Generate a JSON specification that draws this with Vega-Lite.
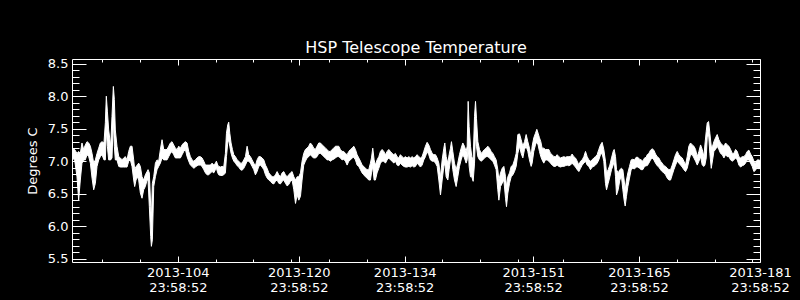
{
"$schema": "https://vega.github.io/schema/vega-lite/v6.json",
"width": 688, "height": 203,
"autosize": {"type": "none"},
"padding": {"left": 72, "top": 59, "right": 40, "bottom": 38},
"background": "black",
"title": {"text": "HSP Telescope Temperature", "color": "white", "font": "DejaVu Sans", "fontSize": 16, "fontWeight": "normal", "offset": 2, "anchor": "middle"},
"data": {"values": [
{"d":90.00,"lo":7.05,"hi":7.20},{"d":90.35,"lo":7.02,"hi":7.18},{"d":90.66,"lo":6.76,"hi":7.12},{"d":90.88,"lo":6.40,"hi":7.15},{"d":91.10,"lo":6.71,"hi":7.12},{"d":91.32,"lo":6.97,"hi":7.28},{"d":91.54,"lo":7.02,"hi":7.18},{"d":91.76,"lo":7.02,"hi":7.25},{"d":91.99,"lo":7.10,"hi":7.30},{"d":92.21,"lo":7.07,"hi":7.28},{"d":92.43,"lo":6.97,"hi":7.23},{"d":92.65,"lo":6.74,"hi":7.12},{"d":92.87,"lo":6.56,"hi":6.97},{"d":93.09,"lo":6.66,"hi":7.02},{"d":93.31,"lo":6.92,"hi":7.12},{"d":93.53,"lo":7.02,"hi":7.20},{"d":93.75,"lo":7.07,"hi":7.28},{"d":93.97,"lo":7.10,"hi":7.30},{"d":94.23,"lo":7.02,"hi":7.28},{"d":94.41,"lo":7.02,"hi":7.59},{"d":94.54,"lo":7.48,"hi":8.00},{"d":94.68,"lo":7.23,"hi":7.77},{"d":94.85,"lo":7.02,"hi":7.48},{"d":95.12,"lo":7.02,"hi":7.23},{"d":95.29,"lo":7.05,"hi":7.69},{"d":95.47,"lo":7.64,"hi":8.15},{"d":95.60,"lo":7.23,"hi":7.95},{"d":95.73,"lo":7.02,"hi":7.48},{"d":95.95,"lo":7.02,"hi":7.23},{"d":96.18,"lo":6.92,"hi":7.07},{"d":96.40,"lo":6.91,"hi":7.05},{"d":96.62,"lo":6.91,"hi":7.02},{"d":96.84,"lo":6.91,"hi":7.05},{"d":97.06,"lo":6.91,"hi":7.07},{"d":97.28,"lo":6.91,"hi":7.02},{"d":97.50,"lo":7.00,"hi":7.15},{"d":97.72,"lo":7.02,"hi":7.23},{"d":97.94,"lo":6.92,"hi":7.23},{"d":98.16,"lo":6.71,"hi":7.02},{"d":98.29,"lo":6.61,"hi":6.87},{"d":98.47,"lo":6.71,"hi":6.92},{"d":98.65,"lo":6.76,"hi":6.94},{"d":98.82,"lo":6.71,"hi":6.97},{"d":99.04,"lo":6.51,"hi":6.92},{"d":99.26,"lo":6.43,"hi":6.76},{"d":99.48,"lo":6.56,"hi":6.71},{"d":99.70,"lo":6.61,"hi":6.79},{"d":99.93,"lo":6.71,"hi":6.84},{"d":100.06,"lo":6.71,"hi":6.87},{"d":100.23,"lo":6.30,"hi":6.82},{"d":100.41,"lo":5.84,"hi":6.30},{"d":100.50,"lo":5.69,"hi":6.10},{"d":100.63,"lo":5.79,"hi":6.66},{"d":100.81,"lo":6.61,"hi":6.76},{"d":101.03,"lo":6.76,"hi":6.97},{"d":101.25,"lo":6.87,"hi":7.02},{"d":101.47,"lo":6.92,"hi":7.00},{"d":101.69,"lo":6.97,"hi":7.18},{"d":101.91,"lo":7.05,"hi":7.33},{"d":102.13,"lo":7.02,"hi":7.18},{"d":102.35,"lo":7.02,"hi":7.18},{"d":102.57,"lo":7.02,"hi":7.18},{"d":102.79,"lo":7.07,"hi":7.23},{"d":103.01,"lo":7.12,"hi":7.28},{"d":103.23,"lo":7.15,"hi":7.30},{"d":103.45,"lo":7.10,"hi":7.25},{"d":103.67,"lo":7.05,"hi":7.20},{"d":103.90,"lo":7.05,"hi":7.18},{"d":104.12,"lo":7.05,"hi":7.23},{"d":104.34,"lo":7.05,"hi":7.20},{"d":104.56,"lo":7.10,"hi":7.25},{"d":104.78,"lo":7.15,"hi":7.28},{"d":105.00,"lo":7.18,"hi":7.30},
{"d":105.22,"lo":7.07,"hi":7.28},{"d":105.44,"lo":7.00,"hi":7.15},{"d":105.66,"lo":6.94,"hi":7.07},{"d":105.88,"lo":6.92,"hi":7.02},{"d":106.10,"lo":6.89,"hi":7.00},{"d":106.32,"lo":6.91,"hi":7.02},{"d":106.54,"lo":6.93,"hi":7.05},{"d":106.76,"lo":6.94,"hi":7.07},{"d":106.98,"lo":6.94,"hi":7.07},{"d":107.20,"lo":6.92,"hi":7.05},{"d":107.43,"lo":6.87,"hi":7.00},{"d":107.65,"lo":6.82,"hi":6.94},{"d":107.87,"lo":6.79,"hi":6.94},{"d":108.09,"lo":6.79,"hi":6.94},{"d":108.31,"lo":6.82,"hi":6.94},{"d":108.53,"lo":6.84,"hi":6.97},{"d":108.75,"lo":6.82,"hi":6.94},{"d":108.97,"lo":6.87,"hi":6.97},{"d":109.10,"lo":6.89,"hi":7.00},{"d":109.28,"lo":6.82,"hi":6.94},{"d":109.41,"lo":6.79,"hi":6.92},{"d":109.63,"lo":6.78,"hi":6.91},{"d":109.85,"lo":6.78,"hi":6.92},{"d":110.07,"lo":6.79,"hi":6.91},{"d":110.29,"lo":6.82,"hi":7.12},{"d":110.43,"lo":7.07,"hi":7.43},{"d":110.60,"lo":7.28,"hi":7.56},{"d":110.73,"lo":7.33,"hi":7.60},{"d":110.87,"lo":7.23,"hi":7.43},{"d":111.04,"lo":7.12,"hi":7.28},{"d":111.22,"lo":7.05,"hi":7.18},{"d":111.40,"lo":7.00,"hi":7.10},{"d":111.62,"lo":6.97,"hi":7.07},{"d":111.84,"lo":6.93,"hi":7.02},{"d":112.06,"lo":6.91,"hi":7.00},{"d":112.28,"lo":6.87,"hi":6.97},{"d":112.50,"lo":6.86,"hi":6.97},{"d":112.72,"lo":6.89,"hi":7.02},{"d":112.94,"lo":6.94,"hi":7.07},{"d":113.16,"lo":7.00,"hi":7.23},{"d":113.38,"lo":7.00,"hi":7.10},{"d":113.60,"lo":6.97,"hi":7.07},{"d":113.82,"lo":6.92,"hi":7.02},{"d":114.04,"lo":6.87,"hi":6.97},{"d":114.26,"lo":6.79,"hi":6.93},{"d":114.48,"lo":6.84,"hi":7.02},{"d":114.70,"lo":6.92,"hi":7.07},{"d":114.92,"lo":6.94,"hi":7.07},{"d":115.14,"lo":6.91,"hi":7.05},{"d":115.37,"lo":6.87,"hi":7.02},{"d":115.59,"lo":6.79,"hi":6.94},{"d":115.81,"lo":6.74,"hi":6.89},{"d":116.03,"lo":6.71,"hi":6.82},{"d":116.25,"lo":6.69,"hi":6.79},{"d":116.47,"lo":6.66,"hi":6.76},{"d":116.69,"lo":6.65,"hi":6.76},{"d":116.91,"lo":6.69,"hi":6.79},{"d":117.13,"lo":6.71,"hi":6.84},{"d":117.35,"lo":6.66,"hi":6.79},{"d":117.57,"lo":6.65,"hi":6.76},{"d":117.79,"lo":6.69,"hi":6.82},{"d":118.01,"lo":6.71,"hi":6.84},{"d":118.23,"lo":6.66,"hi":6.79},{"d":118.45,"lo":6.62,"hi":6.76},{"d":118.67,"lo":6.64,"hi":6.79},{"d":118.89,"lo":6.69,"hi":6.82},{"d":119.11,"lo":6.71,"hi":6.84},{"d":119.34,"lo":6.56,"hi":6.76},{"d":119.56,"lo":6.35,"hi":6.71},{"d":119.78,"lo":6.48,"hi":6.76},{"d":120.00,"lo":6.40,"hi":6.76},{"d":120.22,"lo":6.46,"hi":6.82},
{"d":120.43,"lo":6.71,"hi":7.00},{"d":120.65,"lo":6.94,"hi":7.12},{"d":120.87,"lo":7.00,"hi":7.18},{"d":121.09,"lo":7.05,"hi":7.20},{"d":121.31,"lo":7.07,"hi":7.23},{"d":121.53,"lo":7.10,"hi":7.28},{"d":121.75,"lo":7.07,"hi":7.25},{"d":121.97,"lo":7.05,"hi":7.20},{"d":122.19,"lo":7.05,"hi":7.18},{"d":122.41,"lo":7.07,"hi":7.23},{"d":122.64,"lo":7.12,"hi":7.28},{"d":122.86,"lo":7.12,"hi":7.28},{"d":123.08,"lo":7.10,"hi":7.25},{"d":123.30,"lo":7.07,"hi":7.23},{"d":123.52,"lo":7.05,"hi":7.20},{"d":123.74,"lo":7.02,"hi":7.18},{"d":123.96,"lo":7.02,"hi":7.15},{"d":124.18,"lo":7.00,"hi":7.15},{"d":124.40,"lo":7.02,"hi":7.18},{"d":124.62,"lo":7.03,"hi":7.20},{"d":124.84,"lo":7.05,"hi":7.23},{"d":125.06,"lo":7.07,"hi":7.23},{"d":125.28,"lo":7.07,"hi":7.23},{"d":125.50,"lo":7.05,"hi":7.18},{"d":125.72,"lo":7.02,"hi":7.15},{"d":125.94,"lo":7.03,"hi":7.15},{"d":126.16,"lo":7.00,"hi":7.12},{"d":126.39,"lo":6.94,"hi":7.10},{"d":126.61,"lo":7.00,"hi":7.15},{"d":126.83,"lo":7.02,"hi":7.18},{"d":127.05,"lo":7.05,"hi":7.20},{"d":127.27,"lo":7.06,"hi":7.23},{"d":127.49,"lo":7.02,"hi":7.18},{"d":127.71,"lo":6.94,"hi":7.10},{"d":127.93,"lo":6.92,"hi":7.05},{"d":128.15,"lo":6.87,"hi":7.00},{"d":128.37,"lo":6.82,"hi":6.94},{"d":128.59,"lo":6.79,"hi":6.92},{"d":128.81,"lo":6.76,"hi":6.89},{"d":129.03,"lo":6.74,"hi":6.87},{"d":129.25,"lo":6.71,"hi":6.87},{"d":129.47,"lo":6.71,"hi":6.97},{"d":129.61,"lo":6.82,"hi":7.05},{"d":129.78,"lo":6.92,"hi":7.20},{"d":129.96,"lo":6.71,"hi":7.02},{"d":130.13,"lo":6.71,"hi":6.94},{"d":130.35,"lo":6.82,"hi":7.02},{"d":130.58,"lo":6.89,"hi":7.07},{"d":130.80,"lo":6.97,"hi":7.15},{"d":131.02,"lo":7.00,"hi":7.18},{"d":131.24,"lo":7.00,"hi":7.15},{"d":131.46,"lo":6.97,"hi":7.10},{"d":131.68,"lo":7.02,"hi":7.15},{"d":131.90,"lo":7.05,"hi":7.18},{"d":132.12,"lo":7.02,"hi":7.15},{"d":132.34,"lo":7.00,"hi":7.12},{"d":132.56,"lo":6.97,"hi":7.10},{"d":132.78,"lo":7.00,"hi":7.12},{"d":133.00,"lo":6.94,"hi":7.07},{"d":133.22,"lo":6.93,"hi":7.05},{"d":133.44,"lo":6.97,"hi":7.10},{"d":133.66,"lo":6.94,"hi":7.07},{"d":133.88,"lo":6.92,"hi":7.05},{"d":134.10,"lo":6.91,"hi":7.07},{"d":134.32,"lo":6.91,"hi":7.05},{"d":134.55,"lo":6.92,"hi":7.07},{"d":134.77,"lo":6.91,"hi":7.05},{"d":134.99,"lo":6.93,"hi":7.07},{"d":135.21,"lo":6.91,"hi":7.05},{"d":135.43,"lo":6.92,"hi":7.07},
{"d":135.65,"lo":6.97,"hi":7.10},{"d":135.87,"lo":6.94,"hi":7.07},{"d":136.09,"lo":6.91,"hi":7.05},{"d":136.31,"lo":6.94,"hi":7.07},{"d":136.53,"lo":7.02,"hi":7.15},{"d":136.75,"lo":7.07,"hi":7.23},{"d":136.97,"lo":7.15,"hi":7.29},{"d":137.19,"lo":7.10,"hi":7.25},{"d":137.41,"lo":7.02,"hi":7.18},{"d":137.64,"lo":7.00,"hi":7.12},{"d":137.86,"lo":7.00,"hi":7.10},{"d":138.08,"lo":6.97,"hi":7.10},{"d":138.30,"lo":6.92,"hi":7.05},{"d":138.52,"lo":6.71,"hi":6.97},{"d":138.74,"lo":6.48,"hi":6.76},{"d":138.96,"lo":6.71,"hi":7.02},{"d":139.18,"lo":6.92,"hi":7.20},{"d":139.31,"lo":6.97,"hi":7.28},{"d":139.49,"lo":6.76,"hi":7.07},{"d":139.71,"lo":6.71,"hi":6.97},{"d":139.88,"lo":6.87,"hi":7.10},{"d":140.06,"lo":7.02,"hi":7.20},{"d":140.19,"lo":7.07,"hi":7.30},{"d":140.37,"lo":6.87,"hi":7.15},{"d":140.59,"lo":6.71,"hi":6.97},{"d":140.81,"lo":6.61,"hi":6.87},{"d":141.03,"lo":6.76,"hi":6.97},{"d":141.25,"lo":6.92,"hi":7.10},{"d":141.47,"lo":7.02,"hi":7.20},{"d":141.69,"lo":7.10,"hi":7.28},{"d":141.91,"lo":7.05,"hi":7.23},{"d":142.13,"lo":6.97,"hi":7.15},{"d":142.27,"lo":7.02,"hi":7.23},{"d":142.40,"lo":7.23,"hi":7.92},{"d":142.53,"lo":6.92,"hi":7.53},{"d":142.71,"lo":6.76,"hi":7.23},{"d":142.88,"lo":6.76,"hi":7.07},{"d":143.06,"lo":6.69,"hi":7.02},{"d":143.24,"lo":6.97,"hi":7.69},{"d":143.37,"lo":7.43,"hi":7.92},{"d":143.50,"lo":7.23,"hi":7.66},{"d":143.68,"lo":7.07,"hi":7.30},{"d":143.90,"lo":7.02,"hi":7.18},{"d":144.12,"lo":7.00,"hi":7.12},{"d":144.34,"lo":7.02,"hi":7.15},{"d":144.56,"lo":7.05,"hi":7.18},{"d":144.78,"lo":7.07,"hi":7.20},{"d":145.00,"lo":7.07,"hi":7.23},{"d":145.22,"lo":7.05,"hi":7.20},{"d":145.44,"lo":7.02,"hi":7.15},{"d":145.66,"lo":7.00,"hi":7.12},{"d":145.88,"lo":6.94,"hi":7.07},{"d":146.10,"lo":6.87,"hi":7.02},{"d":146.32,"lo":6.56,"hi":6.87},{"d":146.46,"lo":6.40,"hi":6.71},{"d":146.68,"lo":6.61,"hi":6.82},{"d":146.90,"lo":6.66,"hi":6.89},{"d":147.12,"lo":6.71,"hi":6.92},{"d":147.34,"lo":6.43,"hi":6.76},{"d":147.47,"lo":6.30,"hi":6.61},{"d":147.65,"lo":6.51,"hi":6.76},{"d":147.87,"lo":6.66,"hi":6.82},{"d":148.09,"lo":6.76,"hi":6.92},{"d":148.31,"lo":6.79,"hi":6.94},{"d":148.53,"lo":6.84,"hi":7.02},{"d":148.75,"lo":6.92,"hi":7.12},{"d":148.97,"lo":7.12,"hi":7.41},{"d":149.19,"lo":7.23,"hi":7.42},{"d":149.41,"lo":7.12,"hi":7.33},{"d":149.63,"lo":7.05,"hi":7.23},{"d":149.85,"lo":7.18,"hi":7.30},{"d":150.07,"lo":7.23,"hi":7.41},{"d":150.29,"lo":7.15,"hi":7.30},{"d":150.51,"lo":7.02,"hi":7.20},{"d":150.73,"lo":6.92,"hi":7.07},
{"d":150.86,"lo":6.97,"hi":7.23},{"d":151.08,"lo":7.15,"hi":7.36},{"d":151.30,"lo":7.25,"hi":7.43},{"d":151.48,"lo":7.30,"hi":7.49},{"d":151.65,"lo":7.25,"hi":7.43},{"d":151.83,"lo":7.15,"hi":7.36},{"d":152.01,"lo":7.07,"hi":7.30},{"d":152.18,"lo":7.02,"hi":7.20},{"d":152.40,"lo":6.97,"hi":7.20},{"d":152.62,"lo":7.02,"hi":7.18},{"d":152.84,"lo":7.02,"hi":7.18},{"d":153.07,"lo":7.00,"hi":7.18},{"d":153.29,"lo":6.97,"hi":7.12},{"d":153.51,"lo":6.94,"hi":7.10},{"d":153.73,"lo":6.92,"hi":7.07},{"d":153.95,"lo":6.92,"hi":7.07},{"d":154.17,"lo":6.94,"hi":7.10},{"d":154.39,"lo":6.92,"hi":7.07},{"d":154.61,"lo":6.91,"hi":7.05},{"d":154.83,"lo":6.92,"hi":7.06},{"d":155.05,"lo":6.92,"hi":7.07},{"d":155.27,"lo":6.93,"hi":7.06},{"d":155.49,"lo":6.94,"hi":7.07},{"d":155.71,"lo":6.93,"hi":7.07},{"d":155.93,"lo":6.94,"hi":7.07},{"d":156.15,"lo":6.97,"hi":7.11},{"d":156.37,"lo":6.94,"hi":7.07},{"d":156.59,"lo":6.91,"hi":7.05},{"d":156.82,"lo":6.87,"hi":7.00},{"d":157.04,"lo":6.84,"hi":6.94},{"d":157.26,"lo":6.89,"hi":7.00},{"d":157.48,"lo":6.94,"hi":7.02},{"d":157.70,"lo":6.97,"hi":7.07},{"d":157.92,"lo":7.00,"hi":7.15},{"d":158.14,"lo":6.94,"hi":7.07},{"d":158.36,"lo":6.92,"hi":7.02},{"d":158.58,"lo":6.87,"hi":7.00},{"d":158.80,"lo":6.91,"hi":7.02},{"d":159.02,"lo":6.92,"hi":7.05},{"d":159.24,"lo":6.94,"hi":7.07},{"d":159.46,"lo":6.97,"hi":7.10},{"d":159.68,"lo":7.02,"hi":7.18},{"d":159.90,"lo":7.10,"hi":7.25},{"d":160.12,"lo":7.12,"hi":7.29},{"d":160.34,"lo":7.00,"hi":7.18},{"d":160.56,"lo":6.66,"hi":7.00},{"d":160.70,"lo":6.56,"hi":6.82},{"d":160.92,"lo":6.66,"hi":6.87},{"d":161.14,"lo":6.76,"hi":6.94},{"d":161.36,"lo":6.87,"hi":7.05},{"d":161.58,"lo":6.94,"hi":7.15},{"d":161.71,"lo":7.02,"hi":7.18},{"d":161.89,"lo":6.76,"hi":7.07},{"d":162.02,"lo":6.48,"hi":6.87},{"d":162.24,"lo":6.56,"hi":6.82},{"d":162.46,"lo":6.71,"hi":6.87},{"d":162.68,"lo":6.76,"hi":6.89},{"d":162.86,"lo":6.56,"hi":6.87},{"d":163.03,"lo":6.40,"hi":6.71},{"d":163.17,"lo":6.31,"hi":6.56},{"d":163.34,"lo":6.46,"hi":6.71},{"d":163.52,"lo":6.61,"hi":6.82},{"d":163.74,"lo":6.74,"hi":6.92},{"d":163.96,"lo":6.87,"hi":7.02},{"d":164.18,"lo":6.89,"hi":7.03},{"d":164.40,"lo":6.88,"hi":7.02},{"d":164.62,"lo":6.91,"hi":7.06},{"d":164.84,"lo":6.91,"hi":7.06},{"d":165.06,"lo":6.89,"hi":7.03},{"d":165.28,"lo":6.87,"hi":7.02},{"d":165.50,"lo":6.87,"hi":7.00},{"d":165.73,"lo":6.92,"hi":7.05},{"d":165.95,"lo":6.93,"hi":7.06},
{"d":166.08,"lo":6.93,"hi":7.10},{"d":166.30,"lo":6.97,"hi":7.12},{"d":166.52,"lo":7.02,"hi":7.17},{"d":166.74,"lo":7.05,"hi":7.19},{"d":166.96,"lo":7.02,"hi":7.17},{"d":167.18,"lo":6.97,"hi":7.11},{"d":167.40,"lo":6.93,"hi":7.07},{"d":167.62,"lo":6.91,"hi":7.05},{"d":167.84,"lo":6.87,"hi":7.00},{"d":168.06,"lo":6.84,"hi":6.97},{"d":168.29,"lo":6.82,"hi":6.93},{"d":168.51,"lo":6.79,"hi":6.92},{"d":168.73,"lo":6.74,"hi":6.89},{"d":168.95,"lo":6.71,"hi":6.87},{"d":169.17,"lo":6.71,"hi":6.87},{"d":169.39,"lo":6.79,"hi":6.94},{"d":169.61,"lo":6.87,"hi":7.02},{"d":169.83,"lo":6.94,"hi":7.10},{"d":170.05,"lo":7.00,"hi":7.15},{"d":170.27,"lo":6.97,"hi":7.10},{"d":170.49,"lo":6.94,"hi":7.07},{"d":170.71,"lo":6.91,"hi":7.05},{"d":170.93,"lo":6.87,"hi":7.00},{"d":171.15,"lo":6.84,"hi":6.94},{"d":171.37,"lo":6.89,"hi":7.07},{"d":171.59,"lo":7.00,"hi":7.23},{"d":171.81,"lo":7.10,"hi":7.28},{"d":172.04,"lo":7.10,"hi":7.25},{"d":172.26,"lo":7.05,"hi":7.23},{"d":172.48,"lo":7.00,"hi":7.18},{"d":172.70,"lo":6.94,"hi":7.07},{"d":172.92,"lo":7.00,"hi":7.15},{"d":173.14,"lo":7.07,"hi":7.25},{"d":173.36,"lo":6.94,"hi":7.18},{"d":173.58,"lo":6.92,"hi":7.07},{"d":173.71,"lo":6.94,"hi":7.25},{"d":173.89,"lo":7.05,"hi":7.46},{"d":174.02,"lo":7.36,"hi":7.59},{"d":174.20,"lo":7.41,"hi":7.61},{"d":174.37,"lo":7.12,"hi":7.43},{"d":174.55,"lo":6.89,"hi":7.23},{"d":174.73,"lo":7.02,"hi":7.23},{"d":174.90,"lo":7.15,"hi":7.30},{"d":175.12,"lo":7.18,"hi":7.36},{"d":175.34,"lo":7.23,"hi":7.41},{"d":175.56,"lo":7.18,"hi":7.33},{"d":175.78,"lo":7.12,"hi":7.28},{"d":176.01,"lo":7.10,"hi":7.25},{"d":176.23,"lo":7.05,"hi":7.23},{"d":176.45,"lo":7.10,"hi":7.28},{"d":176.67,"lo":7.07,"hi":7.25},{"d":176.89,"lo":7.07,"hi":7.23},{"d":177.11,"lo":7.02,"hi":7.18},{"d":177.33,"lo":7.00,"hi":7.12},{"d":177.55,"lo":7.02,"hi":7.12},{"d":177.77,"lo":7.05,"hi":7.18},{"d":177.99,"lo":7.02,"hi":7.15},{"d":178.21,"lo":6.94,"hi":7.07},{"d":178.43,"lo":6.91,"hi":7.05},{"d":178.65,"lo":6.93,"hi":7.07},{"d":178.87,"lo":6.94,"hi":7.07},{"d":179.09,"lo":6.97,"hi":7.10},{"d":179.31,"lo":7.02,"hi":7.15},{"d":179.53,"lo":7.02,"hi":7.17},{"d":179.75,"lo":6.97,"hi":7.11},{"d":179.97,"lo":6.92,"hi":7.07},{"d":180.19,"lo":6.84,"hi":7.00},{"d":180.41,"lo":6.86,"hi":6.97},{"d":180.63,"lo":6.91,"hi":7.02},{"d":180.85,"lo":6.88,"hi":7.02},{"d":181.00,"lo":6.89,"hi":7.01}
]},
"layer": [
 {"mark": {"type": "area", "color": "white", "stroke": "white", "strokeWidth": 1, "clip": true},
  "encoding": {
   "x": {"field": "d", "type": "quantitative", "scale": {"domain": [90, 181], "nice": false, "zero": false},
     "axis": {"orient": "bottom", "title": null, "values": [94,99,104,109,114,119,120,124,129,134,139,144,149,151,155,160,165,170,175,180,181],
       "labelExpr": "indexof([104,120,134,151,165,181], datum.value) >= 0 ? ['2013-' + datum.value, '23:58:52'] : ''",
       "tickSize": {"condition": {"test": "indexof([104,120,134,151,165,181], datum.value) >= 0", "value": -6}, "value": -3},
       "labelPadding": 10, "labelLineHeight": 15, "labelFlush": false, "labelOverlap": false, "labelBound": false, "labelFontSize": 13}},
   "y": {"field": "lo", "type": "quantitative", "scale": {"domain": [5.449, 8.572], "nice": false, "zero": false},
     "axis": {"orient": "left", "title": "Degrees C", "values": [5.5,5.6,5.7,5.8,5.9,6.0,6.1,6.2,6.3,6.4,6.5,6.6,6.7,6.8,6.9,7.0,7.1,7.2,7.3,7.4,7.5,7.6,7.7,7.8,7.9,8.0,8.1,8.2,8.3,8.4,8.5],
       "labelExpr": "abs(datum.value*2 - round(datum.value*2)) < 0.001 ? format(datum.value, '.1f') : ''",
       "tickSize": {"condition": {"test": "abs(datum.value*2 - round(datum.value*2)) < 0.001", "value": -14}, "value": -7},
       "labelPadding": 18, "labelOverlap": false, "labelFontSize": 13, "titlePadding": 8}},
   "y2": {"field": "hi"}
  }},
 {"mark": {"type": "area", "opacity": 0},
  "encoding": {
   "x": {"field": "d", "type": "quantitative", "scale": {"domain": [90, 181], "nice": false, "zero": false},
     "axis": {"orient": "top", "title": null, "labels": false, "values": [94,99,104,109,114,119,120,124,129,134,139,144,149,151,155,160,165,170,175,180,181],
       "tickSize": {"condition": {"test": "indexof([104,120,134,151,165,181], datum.value) >= 0", "value": -6}, "value": -3}}},
   "y": {"field": "lo", "type": "quantitative", "scale": {"domain": [5.449, 8.572], "nice": false, "zero": false},
     "axis": {"orient": "right", "title": null, "labels": false, "values": [5.5,5.6,5.7,5.8,5.9,6.0,6.1,6.2,6.3,6.4,6.5,6.6,6.7,6.8,6.9,7.0,7.1,7.2,7.3,7.4,7.5,7.6,7.7,7.8,7.9,8.0,8.1,8.2,8.3,8.4,8.5],
       "tickSize": {"condition": {"test": "abs(datum.value*2 - round(datum.value*2)) < 0.001", "value": -14}, "value": -7}}},
   "y2": {"field": "hi"}
  }}
],
"resolve": {"axis": {"x": "independent", "y": "independent"}},
"config": {
 "view": {"stroke": "white", "strokeWidth": 1},
 "axis": {"domain": false, "grid": false, "tickColor": "white", "tickWidth": 1, "labelColor": "white", "titleColor": "white", "labelFont": "DejaVu Sans", "titleFont": "DejaVu Sans", "labelFontSize": 13, "titleFontSize": 13, "titleFontWeight": "normal"}
}
}
